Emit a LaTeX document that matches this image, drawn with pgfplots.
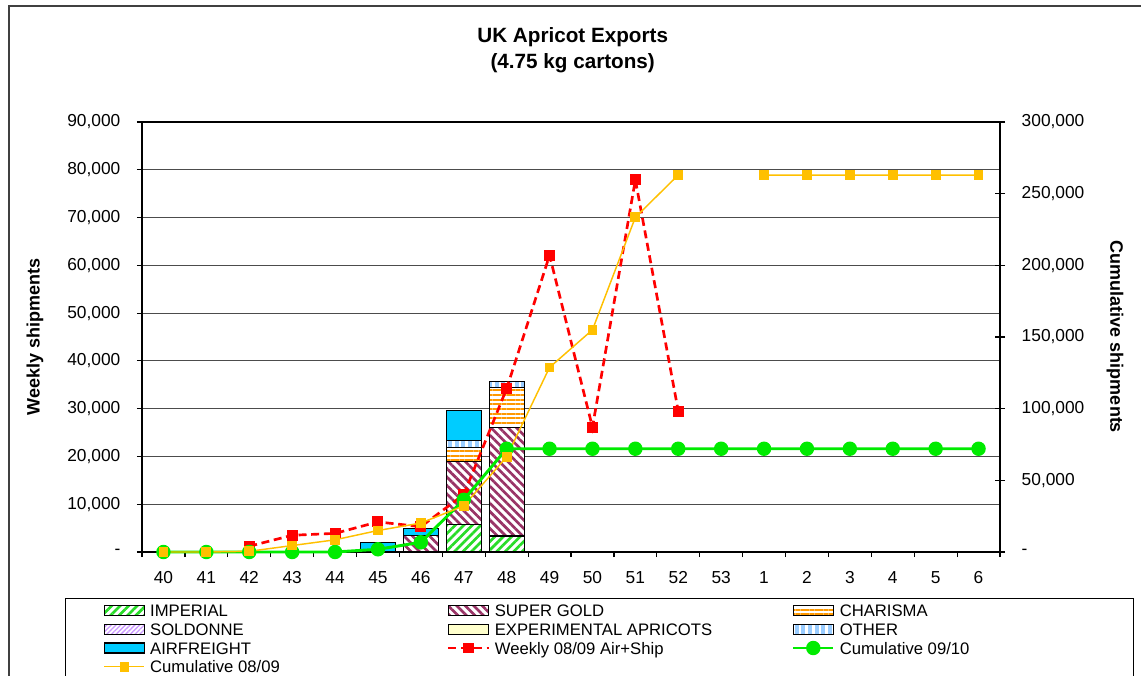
\documentclass[border=0pt]{standalone}
\usepackage{fontspec}
\setmainfont{Liberation Sans}
\usepackage{pgfplots}
\pgfplotsset{compat=1.18}
\usetikzlibrary{patterns.meta}

\definecolor{impgreen}{RGB}{40,220,40}
\definecolor{supergold}{RGB}{153,51,102}
\definecolor{charisma}{RGB}{255,153,0}
\definecolor{soldonne}{RGB}{204,153,255}
\definecolor{experimental}{RGB}{255,255,204}
\definecolor{otherblue}{RGB}{153,204,255}
\definecolor{airfreight}{RGB}{0,204,255}
\definecolor{weekred}{RGB}{255,0,0}
\definecolor{cumgreen}{RGB}{0,235,0}
\definecolor{cumyellow}{RGB}{255,192,0}

\tikzset{
  imperialbar/.style={fill=white, draw=black, line width=0.8pt,
    postaction={pattern={Lines[angle=45,distance=4.5pt,line width=2pt]}, pattern color=impgreen}},
  supergoldbar/.style={fill=white, draw=black, line width=0.8pt,
    postaction={pattern={Lines[angle=-45,distance=4.5pt,line width=2pt]}, pattern color=supergold}},
  charismabar/.style={fill=white, draw=black, line width=0.8pt,
    postaction={pattern={Lines[angle=0,distance=3.5pt,line width=1.7pt]}, pattern color=charisma}},
  soldonnebar/.style={fill=white, draw=black, line width=0.8pt,
    postaction={pattern={Lines[angle=45,distance=2.5pt,line width=1pt]}, pattern color=soldonne}},
  experimentalbar/.style={fill=experimental, draw=black, line width=0.8pt},
  otherbar/.style={fill=otherblue, draw=black, line width=0.8pt,
    postaction={pattern={Lines[angle=90,distance=5pt,line width=2pt]}, pattern color=white}},
  airfreightbar/.style={fill=airfreight, draw=black, line width=0.8pt},
}
\pgfplotsset{
  barleg/.style={legend image code/.code={\draw[##1] (0pt,-3.75pt) rectangle (30pt,3.75pt);}},
  lineleg/.style={legend image code/.code={\draw[mark repeat=2,mark phase=2,##1] plot coordinates {(0pt,0pt) (15pt,0pt) (30pt,0pt)};}},
  base/.style={
    width=643.5pt, height=322.5pt, scale only axis,
    at={(106.5pt,92.25pt)}, anchor=south west,
    xmin=-0.5, xmax=19.5, clip=false, scaled y ticks=false,
    tick label style={font=\fontsize{13}{15}\selectfont},
  },
}

\begin{document}
\begin{tikzpicture}
\useasboundingbox (0,0) rectangle (855.75pt,506.25pt);
\draw[black!75, line width=1.4pt] (6.75pt,-10pt) -- (6.75pt,501.75pt) -- (870pt,501.75pt);

% weekly stacked bars, left axis
\begin{axis}[base,
  ybar stacked, bar width=26.25pt,
  ymin=0, ymax=90000,
  ytick={0,10000,...,90000},
  yticklabels={{-\hspace{8pt}},{10,000},{20,000},{30,000},{40,000},{50,000},{60,000},{70,000},{80,000},{90,000}},
  yticklabel style={xshift=-9pt},
  xtick={0,...,19},
  xticklabels={40,41,42,43,44,45,46,47,48,49,50,51,52,53,1,2,3,4,5,6},
  xticklabel style={yshift=-7.5pt},
  minor xtick={-0.5,0.5,...,19.5},
  major x tick style={draw=none},
  xtick pos=bottom, ytick pos=left, tick align=outside,
  major tick length=3.75pt, minor tick length=3.75pt,
  tick style={black, line width=0.9pt},
  axis line style={line width=1.2pt},
  ymajorgrids, grid style={black!70, line width=0.9pt},
  ylabel={Weekly shipments},
  every axis y label/.style={at={(axis description cs:-0.1247,0.5)}, rotate=90, anchor=center,
    font=\bfseries\fontsize{13.5}{16}\selectfont},
  title={UK Apricot Exports\\(4.75 kg cartons)},
  title style={at={(axis description cs:0.502,1.148)}, anchor=center, align=center,
    font=\bfseries\fontsize{15.5}{19.5}\selectfont},
]
\addplot[imperialbar] coordinates {(5,0) (6,0) (7,5800) (8,3350)};
\addplot[supergoldbar] coordinates {(5,0) (6,3400) (7,13100) (8,22700)};
\addplot[charismabar] coordinates {(5,0) (6,0) (7,2900) (8,8300)};
\addplot[otherbar] coordinates {(5,0) (6,0) (7,1460) (8,1260)};
\addplot[airfreightbar] coordinates {(5,1900) (6,1470) (7,6400) (8,0)};
\end{axis}

% weekly 08/09 line, left axis scale
\begin{axis}[base, hide axis, ymin=0, ymax=90000]
\addplot[weekred, line width=2pt, dash pattern=on 6pt off 3.5pt,
  mark=square*, mark size=3.1pt, mark options={solid, fill=weekred}]
  coordinates {(2,1200) (3,3500) (4,3900) (5,6300) (6,5300) (7,12000) (8,34200)
               (9,62100) (10,26100) (11,77900) (12,29500)};
\end{axis}

% cumulative lines, right axis
\begin{axis}[base,
  axis x line=none, axis y line*=right,
  ymin=0, ymax=300000,
  ytick={0,50000,...,300000},
  yticklabels={{-},{50,000},{100,000},{150,000},{200,000},{250,000},{300,000}},
  yticklabel style={xshift=9pt},
  tick align=center, major tick length=7.5pt,
  tick style={black, line width=0.9pt},
  axis line style={line width=1.2pt},
  ylabel={Cumulative shipments},
  every axis y label/.style={at={(axis description cs:1.134,0.5)}, rotate=-90, anchor=center,
    font=\bfseries\fontsize{13.5}{16}\selectfont},
  unbounded coords=jump,
  legend columns=3, legend cell align=left,
  legend style={at={(axis description cs:-0.0897,-0.107)}, anchor=north west,
    draw=black, line width=1pt, inner xsep=28.5pt, inner ysep=2pt,
    font=\fontsize{12.5}{14}\selectfont,
    nodes={inner sep=0pt, text height=11.5pt, text depth=2.5pt},
    /tikz/every odd column/.append style={column sep=3.75pt}},
]
\addlegendimage{/pgfplots/barleg, imperialbar}
\addlegendentry{\makebox[222.75pt][l]{IMPERIAL}}
\addlegendimage{/pgfplots/barleg, supergoldbar}
\addlegendentry{\makebox[222.75pt][l]{SUPER GOLD}}
\addlegendimage{/pgfplots/barleg, charismabar}
\addlegendentry{\makebox[192pt][l]{CHARISMA}}
\addlegendimage{/pgfplots/barleg, soldonnebar}
\addlegendentry{SOLDONNE}
\addlegendimage{/pgfplots/barleg, experimentalbar}
\addlegendentry{EXPERIMENTAL APRICOTS}
\addlegendimage{/pgfplots/barleg, otherbar}
\addlegendentry{OTHER}
\addlegendimage{/pgfplots/barleg, airfreightbar}
\addlegendentry{AIRFREIGHT}
\addlegendimage{/pgfplots/lineleg, weekred, line width=2pt, dash pattern=on 6pt off 3.5pt,
  mark=square*, mark size=3.1pt, mark options={solid, fill=weekred}}
\addlegendentry{Weekly 08/09 Air+Ship}
\addplot[/pgfplots/lineleg, cumgreen, line width=2.2pt, mark=*, mark size=4.3pt, mark options={fill=cumgreen}]
  coordinates {(0,0) (1,0) (2,0) (3,0) (4,0) (5,1900) (6,6770) (7,36430) (8,72040)
               (9,72040) (10,72040) (11,72040) (12,72040) (13,72040) (14,72040)
               (15,72040) (16,72040) (17,72040) (18,72040) (19,72040)};
\addlegendentry{Cumulative 09/10}
\addplot[/pgfplots/lineleg, cumyellow, line width=1.1pt, mark=square*, mark size=3.1pt, mark options={fill=cumyellow}]
  coordinates {(0,0) (1,0) (2,500) (3,4500) (4,8500) (5,15000) (6,20200) (7,32200)
               (8,66400) (9,128800) (10,155000) (11,233500) (12,263000) (13,nan)
               (14,263000) (15,263000) (16,263000) (17,263000) (18,263000) (19,263000)};
\addlegendentry{Cumulative 08/09}
\end{axis}
\end{tikzpicture}
\end{document}
